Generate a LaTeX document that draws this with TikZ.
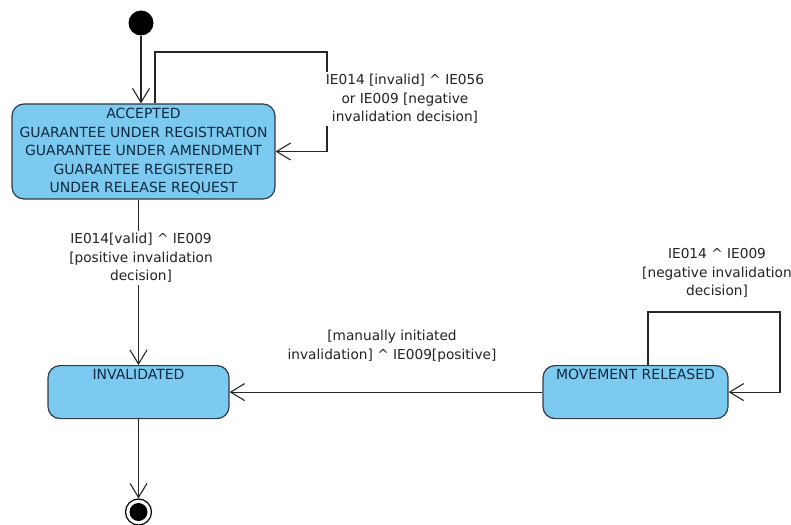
\documentclass[tikz,border=0pt]{standalone}
\usepackage{fontspec}
\setmainfont{DejaVu Sans}
\usetikzlibrary{arrows.meta}
\definecolor{boxfill}{HTML}{7CCAEF}
\definecolor{boxline}{HTML}{2E3B48}
\definecolor{boxtext}{HTML}{102A44}
\definecolor{lbltext}{HTML}{222222}
\tikzset{
  statebox/.style={draw=boxline, fill=boxfill, line width=1.2pt, rounded corners=12pt,
    text=boxtext, align=center, font=\fontsize{14}{18.5}\selectfont},
  tr/.style={draw=black!85, line width=1.1pt, -{Straight Barb[length=14pt,width=17pt,line width=1.1pt]}},
  lbl/.style={text=lbltext, align=center, font=\fontsize{13.7}{18.5}\selectfont, inner sep=2pt},
  lblw/.style={lbl, fill=white}
}
\begin{document}
\begin{tikzpicture}[x=1pt,y=-1pt]
\useasboundingbox (0,0) rectangle (791,524);
% initial
\node[circle, fill=black, minimum size=25pt, inner sep=0pt] (init) at (141,23) {};
% states
\node[statebox, minimum width=263pt, minimum height=95pt, inner sep=0pt] (acc) at (143.5,151.5)
  {ACCEPTED\\GUARANTEE UNDER REGISTRATION\\GUARANTEE UNDER AMENDMENT\\GUARANTEE REGISTERED\\UNDER RELEASE REQUEST};
\node[statebox, anchor=north, minimum width=181pt, inner ysep=3pt, text height=11pt, text depth=36pt] (inv) at (138.5,365) {INVALIDATED};
\node[statebox, anchor=north, minimum width=185pt, inner ysep=3pt, text height=11pt, text depth=36pt] (mr) at (635.5,365) {MOVEMENT RELEASED};
% final
\node[circle, draw=black, line width=1.2pt, minimum size=26pt, inner sep=0pt] (fin) at (138.5,512) {};
\node[circle, fill=black, minimum size=18pt, inner sep=0pt] (fininner) at (fin.center) {};
% coordinates for loops
\coordinate (l1) at (327,52);
\coordinate (l2) at (780,312);
% transitions
\draw[tr] (init) -- (init |- acc.north);
\draw[tr] ([xshift=11.5pt]acc.north) |- (l1) |- (acc.east);
\node[lblw] (lab1) at (405,99) {IE014 [invalid] \^{} IE056\\or IE009 [negative\\invalidation decision]};
\draw[tr] (acc.south -| inv.north) -- (inv.north);
\node[lblw] (lab2) at (141,258) {IE014[valid] \^{} IE009\\[0pt][positive invalidation\\decision]};
\draw[tr] (inv.south) -- (fin.north);
\draw[tr] (mr.west) -- (inv.east);
\node[lbl] (lab3) at (392,346) {[manually initiated\\invalidation] \^{} IE009[positive]};
\draw[tr] ([xshift=12.5pt]mr.north) |- (l2) |- (mr.east);
\node[lbl] (lab4) at (717,273) {IE014 \^{} IE009\\[0pt][negative invalidation\\decision]};
\end{tikzpicture}
\end{document}
